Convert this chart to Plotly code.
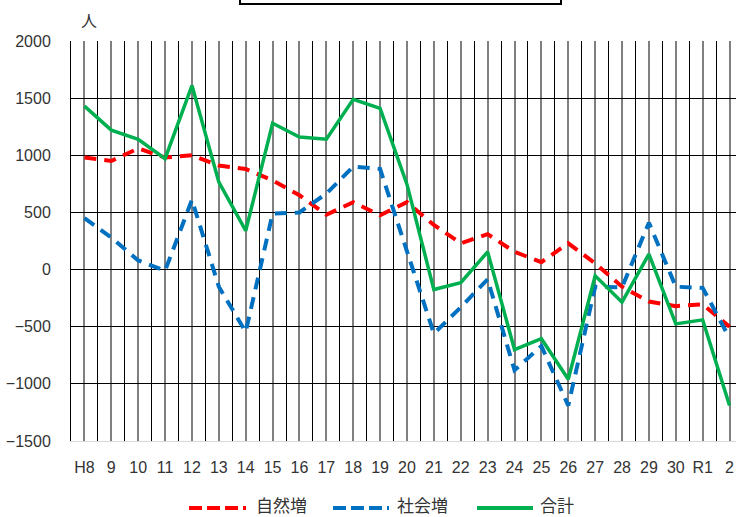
import plotly.graph_objects as go

categories = ["H8", "9", "10", "11", "12", "13", "14", "15", "16", "17", "18", "19",
              "20", "21", "22", "23", "24", "25", "26", "27", "28", "29", "30", "R1", "2"]
natural = [980, 950, 1060, 980, 1000, 910, 880, 780, 650, 480, 590, 475,
           590, 390, 230, 310, 155, 65, 230, 55, -150, -280, -320, -305, -500]
social = [450, 280, 80, -10, 610, -150, -545, 490, 500, 665, 900, 880,
          160, -560, -330, -85, -880, -670, -1190, -150, -155, 410, -150, -160, -600]
total = [1430, 1220, 1140, 970, 1610, 765, 340, 1280, 1160, 1140, 1490, 1410,
         745, -175, -115, 155, -700, -605, -960, -55, -285, 135, -475, -440, -1190]
series_names = ["自然増", "社会増", "合計"]
colors = ["#FF0000", "#0070C0", "#00B050"]

W, H = 736, 517
L, R, T, B = 71, 0, 41, 76
PW, PH = W - L - R, H - T - B


def px(x):
    return (x - L) / PW


def py(y):
    return (H - B - y) / PH


xs = list(range(len(categories)))
fig = go.Figure()
fig.add_trace(go.Scatter(x=xs, y=natural, mode="lines", name=series_names[0],
                         line=dict(color=colors[0], width=4, dash="12px,8px")))
fig.add_trace(go.Scatter(x=xs, y=social, mode="lines", name=series_names[1],
                         line=dict(color=colors[1], width=4, dash="12px,8px")))
fig.add_trace(go.Scatter(x=xs, y=total, mode="lines", name=series_names[2],
                         line=dict(color=colors[2], width=3.5)))

tick_font = dict(family="Liberation Sans, Arial, sans-serif", size=16, color="#333333")
cjk = "Noto Sans CJK JP, sans-serif"

fig.update_xaxes(
    range=[-0.5, len(categories) - 0.76],
    tickmode="array", tickvals=xs, ticktext=categories,
    showgrid=True, gridcolor="#808080", gridwidth=2,
    minor=dict(tickmode="array", tickvals=[i - 0.5 for i in range(len(categories) + 1)],
               showgrid=True, gridcolor="#000000", gridwidth=1),
    showline=True, linecolor="#d9d9d9", linewidth=1,
    ticks="", tickfont=tick_font, ticklabelstandoff=12,
    zeroline=False, fixedrange=True,
)
fig.update_yaxes(
    range=[-1500, 2000], dtick=500, tick0=0,
    showgrid=True, gridcolor="#000000", gridwidth=1,
    zeroline=True, zerolinecolor="#000000", zerolinewidth=1,
    showline=True, linecolor="#000000", linewidth=1,
    ticks="", tickfont=tick_font, ticklabelstandoff=16,
    fixedrange=True,
)

shapes = [
    # title box (cropped at the top)
    dict(type="rect", xref="paper", yref="paper", x0=px(240), x1=px(561), y0=py(4), y1=py(-20),
         line=dict(color="#000000", width=2), fillcolor="rgba(0,0,0,0)"),
]
annotations = [
    dict(text="人", xref="paper", yref="paper", x=px(89), y=py(20), showarrow=False,
         font=dict(family=cjk, size=16, color="#333333"), xanchor="center", yanchor="middle"),
]
legend_items = [(189, 246, 255, "13px,5px"), (333, 389, 396, "13px,5px"), (477, 533, 539, None)]
for (x0, x1, tx, dash), name, c in zip(legend_items, series_names, colors):
    ln = dict(color=c, width=4)
    if dash:
        ln["dash"] = dash
    shapes.append(dict(type="line", xref="paper", yref="paper", x0=px(x0), x1=px(x1),
                       y0=py(508), y1=py(508), line=ln))
    annotations.append(dict(text=name, xref="paper", yref="paper", x=px(tx), y=py(505),
                            showarrow=False, xanchor="left", yanchor="middle", borderpad=0,
                            font=dict(family=cjk, size=17, color="#333333")))

fig.update_layout(
    width=W, height=H,
    margin=dict(l=L, r=R, t=T, b=B, autoexpand=False),
    paper_bgcolor="white", plot_bgcolor="white",
    showlegend=False,
    shapes=shapes, annotations=annotations,
)
fig.write_html("out.html", config={"displayModeBar": False},
               post_script="document.body.style.margin='0';document.body.style.overflow='hidden';")
